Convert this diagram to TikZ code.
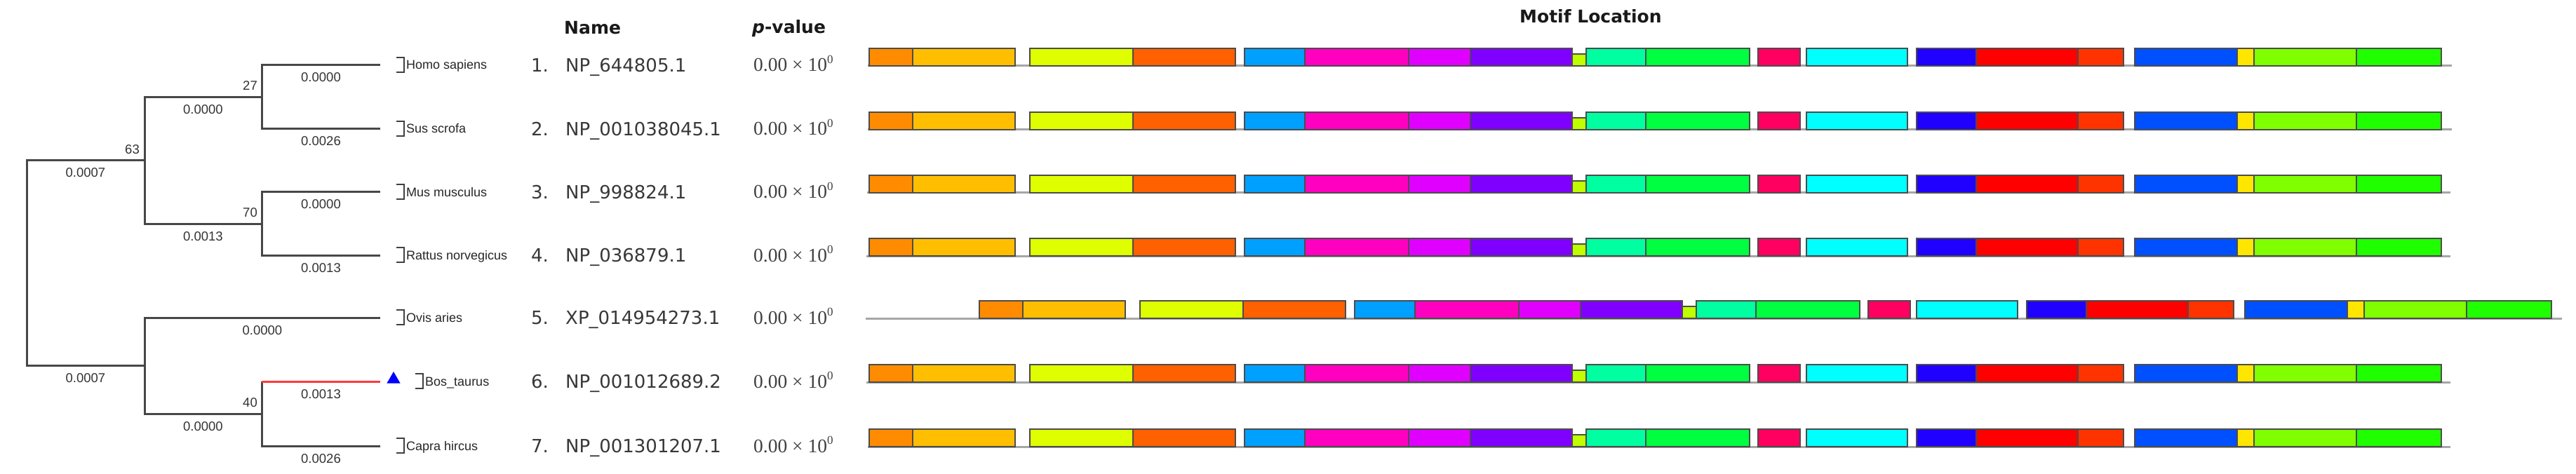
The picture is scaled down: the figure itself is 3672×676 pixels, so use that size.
\documentclass[tikz,border=0pt]{standalone}
\usepackage{fontspec}
\setmainfont{DejaVu Sans}
\newfontfamily\treefont{Liberation Sans}
\newfontfamily\pfont{Liberation Serif}
\newfontfamily\namefont{DejaVu Sans}
\usetikzlibrary{shapes.geometric}
\definecolor{c1}{HTML}{FF8C00}
\definecolor{c2}{HTML}{FFBF00}
\definecolor{c3}{HTML}{DFFF00}
\definecolor{c4}{HTML}{FF6000}
\definecolor{c5}{HTML}{00A0FF}
\definecolor{c6}{HTML}{FF00C0}
\definecolor{c7}{HTML}{E000FF}
\definecolor{c8}{HTML}{8000FF}
\definecolor{c9}{HTML}{BFFF00}
\definecolor{c10}{HTML}{00FFA0}
\definecolor{c11}{HTML}{00FF40}
\definecolor{c12}{HTML}{FF0060}
\definecolor{c13}{HTML}{00FFFF}
\definecolor{c14}{HTML}{2000FF}
\definecolor{c15}{HTML}{FF0000}
\definecolor{c16}{HTML}{FF3300}
\definecolor{c17}{HTML}{0050FF}
\definecolor{c18}{HTML}{FFE600}
\definecolor{c19}{HTML}{80FF00}
\definecolor{c20}{HTML}{20FF00}
\definecolor{bosred}{HTML}{FF3A3A}
\newcommand{\pvsup}{\raisebox{0.42em}{\fontsize{17}{17}\selectfont 0}}
\begin{document}
\begin{tikzpicture}[x=1pt,y=-1pt,
  treeline/.style={line width=3pt, draw=black!72},
  redline/.style={line width=3pt, draw=bosred},
  blen/.style={font=\treefont\fontsize{18.5}{20}\selectfont, text=black!80, inner sep=0pt, anchor=base},
  boot/.style={font=\treefont\fontsize{18.5}{20}\selectfont, text=black!80, inner sep=0pt, anchor=base east},
  sp/.style={font=\treefont\fontsize{18}{20}\selectfont, text=black!85, inner sep=0pt, anchor=base west},
  brk/.style={line width=2pt, draw=black!75},
  num/.style={font=\namefont\fontsize{26}{28}\selectfont, text=black!78, inner sep=0pt, anchor=base west},
  pv/.style={font=\pfont\fontsize{27.5}{29}\selectfont, text=black!75, inner sep=0pt, anchor=base west},
  hdr/.style={font=\namefont\bfseries\fontsize{25}{27}\selectfont, text=black!90, inner sep=0pt, anchor=base west},
  mbox/.style={draw=black!70, line width=1.5pt},
  baseln/.style={draw=black!35, line width=3pt},
]
\useasboundingbox[fill=white] (0,0) rectangle (3672,676);

% ---------- tree ----------
\coordinate (root) at (38,375.25);
\coordinate (nU) at (206,228.75);
\coordinate (nL) at (206,521.5);
\coordinate (n27) at (373,138.5);
\coordinate (n70) at (373,319);
\coordinate (n40) at (373,590);
\coordinate (lHomo) at (542,93);
\coordinate (lSus) at (542,184);
\coordinate (lMus) at (542,274);
\coordinate (lRat) at (542,364);
\coordinate (lOvis) at (542,453);
\coordinate (lBos) at (542,544);
\coordinate (lCap) at (542,636);

\draw[treeline] (root) |- (nU);
\draw[treeline] (root) |- (nL);
\draw[treeline] (nU) |- (n27);
\draw[treeline] (nU) |- (n70);
\draw[treeline] (n27) |- (lHomo);
\draw[treeline] (n27) |- (lSus);
\draw[treeline] (n70) |- (lMus);
\draw[treeline] (n70) |- (lRat);
\draw[treeline] (nL) |- (lOvis);
\draw[treeline] (nL) |- (n40);
\draw[treeline] (n40) |- (lCap);
\draw[treeline] (n40) -- (n40 |- lBos);
\draw[redline] (n40 |- lBos) -- (lBos);

% branch lengths
\node[blen] (bU) at (122,228.75+24) {0.0007};
\node[blen] (bL) at (122,521.5+24) {0.0007};
\node[blen] (b27) at (289.5,138.5+24) {0.0000};
\node[blen] (b70) at (289.5,319+24) {0.0013};
\node[blen] (b40) at (289.5,590+24) {0.0000};
\node[blen] (bHomo) at (457.5,93+24) {0.0000};
\node[blen] (bSus) at (457.5,184+24) {0.0026};
\node[blen] (bMus) at (457.5,274+24) {0.0000};
\node[blen] (bRat) at (457.5,364+24) {0.0013};
\node[blen] (bOvis) at (374,453+24) {0.0000};
\node[blen] (bBos) at (457.5,544+24) {0.0013};
\node[blen] (bCap) at (457.5,636+24) {0.0026};

% bootstrap values
\node[boot] (s63) at (199,228.75-9) {63};
\node[boot] (s27) at (367,138.5-10) {27};
\node[boot] (s70) at (367,319-10) {70};
\node[boot] (s40) at (367,590-10) {40};

% species labels
\foreach \y/\nm/\id in {93/Homo sapiens/spHomo, 184/Sus scrofa/spSus, 274/Mus musculus/spMus, 364/Rattus norvegicus/spRat, 453/Ovis aries/spOvis, 636/Capra hircus/spCap}{
  \draw[brk] (565,\y-11) -| (576,\y+10) -- (565,\y+10);
  \node[sp] (\id) at (579,\y+6) {\nm};
}
\draw[brk] (592,544-11) -| (603,544+10) -- (592,544+10);
\node[sp] (spBos) at (606,544+6) {Bos\_taurus};
\node[regular polygon, regular polygon sides=3, fill=blue, inner sep=0pt, minimum size=22pt] (tri) at (561,541) {};

% ---------- headers ----------
\node[hdr] (hName) at (804,49) {Name};
\node[hdr] (hP) at (1072,48) {{\itshape p}-value};
\node[hdr] (hMotif) at (2166,33) {Motif Location};

% ---------- names and p-values ----------
\foreach \i/\y/\nm in {1/93/NP\_644805.1, 2/184/NP\_001038045.1, 3/274/NP\_998824.1, 4/364/NP\_036879.1, 5/453/XP\_014954273.1, 6/544/NP\_001012689.2, 7/636/NP\_001301207.1}{
  \node[num] (num\i) at (757,\y+9.5) {\i.};
  \node[num] (nm\i) at (806,\y+9.5) {\nm};
  \node[pv] (pv\i) at (1074,\y+9) {0.00 × 10\pvsup};
}

% ---------- motif bars ----------
\foreach \y/\sh/\bs/\be in {93/0/1237/3495, 184/0/1237/3495, 274/0/1236/3493, 364/0/1235/3493, 453/157/1234/3652, 544/0/1235/3493, 636/0/1237/3493}{
  \draw[baseln] (\bs,\y+1) -- (\be,\y+1);
  \foreach \a/\b/\col in {1239/1301/c1, 1301/1447/c2, 1468/1615/c3, 1615/1761/c4, 1774/1860/c5, 1860/2008/c6, 2008/2096/c7, 2096/2241/c8, 2261/2346/c10, 2346/2494/c11, 2506/2566/c12, 2575/2719/c13, 2732/2817/c14, 2817/2962/c15, 2962/3027/c16, 3043/3189/c17, 3189/3213/c18, 3213/3359/c19, 3359/3480/c20}{
    \filldraw[mbox, fill=\col] (\a+\sh,\y-24) rectangle (\b+\sh,\y+1);
  }
  \filldraw[mbox, fill=c9] (2241+\sh,\y-16) rectangle (2261+\sh,\y+1);
}
\end{tikzpicture}
\end{document}
